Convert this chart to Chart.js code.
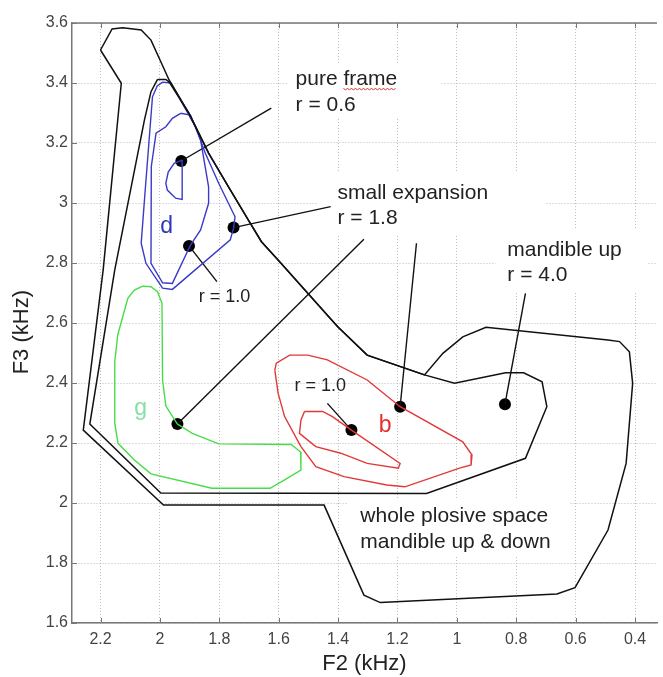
<!DOCTYPE html>
<html>
<head>
<meta charset="utf-8">
<script src="https://cdn.jsdelivr.net/npm/chart.js@4/dist/chart.umd.min.js"></script>
<style>
  html, body { margin: 0; padding: 0; background: #fff; }
  #wrap { width: 663px; height: 677px; }
</style>
</head>
<body>
<div id="wrap"><canvas id="grafico"></canvas></div>
<script>
// Axis ticks (kHz)
const f2Ticks = [2.2, 2, 1.8, 1.6, 1.4, 1.2, 1, 0.8, 0.6, 0.4];
const f3Ticks = [1.6, 1.8, 2, 2.2, 2.4, 2.6, 2.8, 3, 3.2, 3.4, 3.6];

// Contours as [F2, F3] pairs
const wholeSpace = [
  [2.200, 3.510], [2.161, 3.580], [2.125, 3.584], [2.063, 3.577], [2.030, 3.543],
  [1.969, 3.410], [1.902, 3.299], [1.836, 3.166], [1.769, 3.054], [1.702, 2.943],
  [1.658, 2.871], [1.602, 2.810], [1.402, 2.588], [1.302, 2.493], [1.109, 2.427],
  [1.047, 2.499], [0.980, 2.554], [0.902, 2.586], [0.491, 2.543], [0.452, 2.538],
  [0.419, 2.504], [0.408, 2.399], [0.430, 2.132], [0.491, 1.910], [0.602, 1.718],
  [0.663, 1.697], [1.258, 1.668], [1.313, 1.693], [1.447, 1.993], [1.988, 1.993],
  [2.258, 2.243], [2.191, 2.777], [2.130, 3.399], [2.200, 3.510]
];
const mandibleUp = [
  [2.008, 3.412], [1.980, 3.412], [1.969, 3.404], [1.902, 3.299], [1.836, 3.166],
  [1.769, 3.054], [1.702, 2.943], [1.658, 2.871], [1.602, 2.810], [1.402, 2.588],
  [1.302, 2.493], [1.109, 2.427], [1.008, 2.399], [0.836, 2.434], [0.775, 2.434],
  [0.713, 2.404], [0.697, 2.321], [0.769, 2.149], [1.102, 2.032], [1.997, 2.033],
  [2.236, 2.263], [2.152, 2.777], [2.052, 3.277], [2.030, 3.371], [2.008, 3.412]
];
const dOuter = [
  [1.991, 3.403], [1.963, 3.400], [1.880, 3.254], [1.847, 3.166], [1.802, 3.066],
  [1.747, 2.954], [1.752, 2.916], [1.763, 2.877], [1.958, 2.712], [1.991, 2.716],
  [2.047, 2.799], [2.063, 2.866], [2.052, 3.010], [2.025, 3.354], [2.009, 3.390],
  [1.991, 3.403]
];
const dMiddle = [
  [1.930, 3.299], [1.897, 3.293], [1.863, 3.210], [1.836, 3.054], [1.836, 2.999],
  [1.863, 2.910], [1.897, 2.860], [1.958, 2.732], [1.991, 2.734], [2.030, 2.799],
  [2.029, 3.121], [2.013, 3.233], [1.980, 3.254], [1.958, 3.282], [1.930, 3.299]
];
const dInner = [
  [1.925, 3.143], [1.952, 3.132], [1.972, 3.103], [1.980, 3.066], [1.975, 3.043],
  [1.947, 3.016], [1.925, 3.012], [1.925, 3.143]
];
const gContour = [
  [2.058, 2.723], [2.030, 2.721], [2.008, 2.704], [1.993, 2.666], [1.991, 2.410],
  [1.980, 2.323], [1.941, 2.263], [1.891, 2.232], [1.802, 2.197], [1.558, 2.195],
  [1.526, 2.170], [1.525, 2.110], [1.580, 2.077], [1.629, 2.049], [1.825, 2.049],
  [2.030, 2.097], [2.086, 2.143], [2.141, 2.199], [2.152, 2.266], [2.152, 2.471],
  [2.142, 2.560], [2.108, 2.682], [2.086, 2.710], [2.058, 2.723]
];
const bOuter = [
  [1.613, 2.443], [1.608, 2.466], [1.563, 2.493], [1.502, 2.493], [1.436, 2.477],
  [1.302, 2.410], [1.191, 2.321], [0.980, 2.204], [0.949, 2.160], [0.952, 2.127],
  [0.991, 2.116], [1.175, 2.054], [1.236, 2.060], [1.380, 2.088], [1.475, 2.121],
  [1.525, 2.188], [1.580, 2.288], [1.602, 2.366], [1.613, 2.443]
];
const bInner = [
  [1.513, 2.305], [1.452, 2.305], [1.419, 2.288], [1.355, 2.243], [1.191, 2.132],
  [1.197, 2.116], [1.302, 2.132], [1.391, 2.166], [1.475, 2.188], [1.530, 2.232],
  [1.525, 2.277], [1.513, 2.305]
];

// Marked points and pointer lines (label end -> point)
const markers = [
  [1.928, 3.140], [1.752, 2.918], [1.902, 2.857], [1.941, 2.263],
  [1.191, 2.321], [1.355, 2.243], [0.838, 2.329]
];
const pointers = [
  [[1.625, 3.316], [1.928, 3.140]],
  [[1.425, 2.988], [1.752, 2.918]],
  [[1.313, 2.879], [1.941, 2.263]],
  [[1.136, 2.866], [1.191, 2.321]],
  [[0.769, 2.699], [0.838, 2.329]],
  [[1.808, 2.738], [1.902, 2.857]],
  [[1.436, 2.332], [1.355, 2.243]]
];

// Text labels, anchored in data units (baseline of each line)
const notes = [
  { lines: ['pure frame', 'r = 0.6'], f2: 1.543, f3: [3.393, 3.308], size: 21, box: [1.569, 1.052, 3.467, 3.287] },
  { lines: ['small expansion', 'r = 1.8'], f2: 1.402, f3: [3.015, 2.930], size: 21, box: [1.469, 0.702, 3.100, 2.890] },
  { lines: ['mandible up', 'r = 4.0'], f2: 0.830, f3: [2.824, 2.741], size: 21, box: [0.869, 0.359, 2.910, 2.703] },
  { lines: ['whole plosive space', 'mandible up & down'], f2: 1.325, f3: [1.938, 1.849], size: 21, box: [1.369, 0.619, 2.010, 1.820] },
  { lines: ['r = 1.0'], f2: 1.869, f3: [2.671], size: 18 },
  { lines: ['r = 1.0'], f2: 1.547, f3: [2.372], size: 18 },
  { lines: ['d'], f2: 1.999, f3: [2.900], size: 23, color: '#2f37b8' },
  { lines: ['g'], f2: 2.086, f3: [2.293], size: 23, color: '#86dfa6' },
  { lines: ['b'], f2: 1.263, f3: [2.238], size: 23, color: '#e0302f' }
];

const fam = '"Liberation Sans", Arial, Helvetica, sans-serif';
Chart.defaults.font.family = fam;

const toPts = arr => arr.map(([x, y]) => ({ x, y }));
const linha = (pts, color, width) => ({
  data: toPts(pts), showLine: true, borderColor: color, borderWidth: width,
  pointRadius: 0, fill: false, tension: 0
});

// Draws white text boxes, the top frame, inward ticks and the labels
const extras = {
  id: 'extras',
  beforeDatasetsDraw(chart) {
    const { ctx, scales: { x, y } } = chart;
    ctx.save();
    ctx.fillStyle = '#fff';
    notes.forEach(n => {
      if (!n.box) return;
      const l = x.getPixelForValue(n.box[0]), r = x.getPixelForValue(n.box[1]);
      const t = y.getPixelForValue(n.box[2]), b = y.getPixelForValue(n.box[3]);
      ctx.fillRect(l, t, r - l, b - t);
    });
    ctx.restore();
  },
  afterDatasetsDraw(chart) {
    const { ctx, chartArea: a, scales: { x, y } } = chart;
    ctx.save();
    ctx.strokeStyle = '#777';
    ctx.lineWidth = 1.5;
    ctx.beginPath();
    ctx.moveTo(a.left, a.top);
    ctx.lineTo(a.right, a.top);
    ctx.stroke();

    ctx.lineWidth = 1;
    ctx.beginPath();
    x.ticks.forEach(t => {
      const px = Math.round(x.getPixelForValue(t.value)) + 0.5;
      ctx.moveTo(px, a.bottom); ctx.lineTo(px, a.bottom - 5);
      ctx.moveTo(px, a.top); ctx.lineTo(px, a.top + 5);
    });
    y.ticks.forEach(t => {
      const py = Math.round(y.getPixelForValue(t.value)) + 0.5;
      ctx.moveTo(a.left, py); ctx.lineTo(a.left + 5, py);
    });
    ctx.stroke();

    ctx.textAlign = 'left';
    ctx.textBaseline = 'alphabetic';
    notes.forEach(n => {
      ctx.font = n.size + 'px ' + fam;
      ctx.fillStyle = n.color || '#222';
      n.lines.forEach((s, i) => {
        ctx.fillText(s, x.getPixelForValue(n.f2), y.getPixelForValue(n.f3[i]));
      });
    });

    // red spell-check squiggle under "frame"
    const n0 = notes[0];
    ctx.font = n0.size + 'px ' + fam;
    const sx = x.getPixelForValue(n0.f2) + ctx.measureText('pure ').width;
    const sw = ctx.measureText('frame').width;
    const sy = y.getPixelForValue(n0.f3[0]) + 4;
    ctx.strokeStyle = '#e03030';
    ctx.lineWidth = 1;
    ctx.beginPath();
    for (let i = 0; i <= sw; i += 2) {
      const yy = sy + ((i / 2) % 2 === 0 ? -1 : 1);
      if (i === 0) ctx.moveTo(sx + i, yy); else ctx.lineTo(sx + i, yy);
    }
    ctx.stroke();
    ctx.restore();
  }
};

const datasets = [
  linha(wholeSpace, '#111', 1.5),
  linha(mandibleUp, '#111', 1.5),
  linha(dOuter, '#3a3ac8', 1.4),
  linha(dMiddle, '#3a3ac8', 1.4),
  linha(dInner, '#3a3ac8', 1.4),
  linha(gContour, '#48dd48', 1.4),
  linha(bOuter, '#e23838', 1.4),
  linha(bInner, '#e23838', 1.4),
  ...pointers.map(p => linha(p, '#111', 1.4)),
  {
    data: toPts(markers), showLine: false, pointRadius: 6,
    pointBackgroundColor: '#000', pointBorderWidth: 0
  }
];

new Chart(document.getElementById('grafico'), {
  type: 'scatter',
  data: { datasets },
  options: {
    responsive: true,
    maintainAspectRatio: false,
    animation: false,
    layout: { padding: { top: 23, right: 0, bottom: 0, left: 0 } },
    plugins: { legend: { display: false }, tooltip: { enabled: false } },
    scales: {
      x: {
        type: 'linear', reverse: true, min: 0.326, max: 2.296,
        afterBuildTicks: s => { s.ticks = f2Ticks.map(v => ({ value: v })); },
        afterFit: s => { s.height = 54; },
        ticks: { callback: v => String(v), color: '#444', font: { size: 16 }, padding: 7, autoSkip: false, maxRotation: 0 },
        grid: { color: '#bdbdbd', drawTicks: false },
        border: { color: '#777', width: 1.5, dash: [1, 2] },
        title: { display: true, text: 'F2 (kHz)', color: '#222', font: { size: 22 }, padding: { top: 0, bottom: 0 } }
      },
      y: {
        type: 'linear', min: 1.6, max: 3.6,
        afterBuildTicks: s => { s.ticks = f3Ticks.map(v => ({ value: v })); },
        afterFit: s => { s.width = 72; },
        ticks: { callback: v => String(v), color: '#444', font: { size: 16 }, padding: 4, autoSkip: false },
        grid: { color: '#bdbdbd', drawTicks: false },
        border: { color: '#777', width: 1.5, dash: [1, 2] },
        title: { display: true, text: 'F3 (kHz)   ', color: '#222', font: { size: 22 }, padding: { top: 9, bottom: 0 } }
      }
    }
  },
  plugins: [extras]
});
</script>
</body>
</html>
